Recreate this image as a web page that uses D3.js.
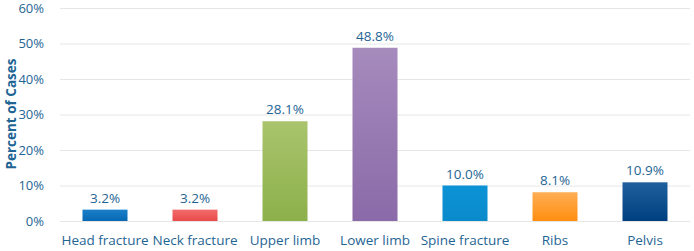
<!DOCTYPE html>
<html>
<head>
<meta charset="utf-8">
<script src="https://cdn.jsdelivr.net/npm/d3@7"></script>
<style>
  body { margin: 0; background: #fff; }
  text { font-family: "Open Sans", "Noto Sans", sans-serif; }
</style>
</head>
<body>
<div class="chart"></div>
<script>
let categories = ["Head fracture", "Neck fracture", "Upper limb", "Lower limb", "Spine fracture", "Ribs", "Pelvis"];
let values = [3.2, 3.2, 28.1, 48.8, 10.0, 8.1, 10.9];
let yTicks = [0, 10, 20, 30, 40, 50, 60];
let topColors = ["#1a7fc8", "#f26b6b", "#a9c46d", "#a68bbd", "#0b93d6", "#ffad55", "#21609e"];
let bottomColors = ["#0868b4", "#e94a4a", "#8cb04a", "#8a6aa8", "#0b8acb", "#ff8f10", "#003f7f"];

let margin = {top: 8, right: 4, bottom: 30, left: 60},
    width = 694 - margin.left - margin.right,
    height = 251 - margin.top - margin.bottom;

let labelColor = "#1f6594";

let svg = d3.select(".chart")
  .append("svg")
    .attr("width", 694)
    .attr("height", 251);

let defs = svg.append("defs");
categories.forEach(function(c, i){
  let g = defs.append("linearGradient")
    .attr("id", "grad" + i)
    .attr("x1", 0).attr("y1", 0).attr("x2", 0).attr("y2", 1);
  g.append("stop").attr("offset", "0%").attr("stop-color", topColors[i]);
  g.append("stop").attr("offset", "100%").attr("stop-color", bottomColors[i]);
});

let chart = svg.append("g")
  .attr("transform", "translate(" + margin.left + "," + margin.top + ")");

let xScale = d3.scaleBand()
  .domain(categories)
  .range([0, width])
  .paddingInner(0.5)
  .paddingOuter(0.25);

let yScale = d3.scaleLinear()
  .domain([0, 60])
  .range([height, 0]);

// grid lines
chart.selectAll(".grid").data(yTicks).enter()
  .append("line")
    .attr("class", "grid")
    .attr("x1", 0)
    .attr("x2", width)
    .attr("y1", function(d){ return yScale(d) + 0.5; })
    .attr("y2", function(d){ return yScale(d) + 0.5; })
    .attr("stroke", "#e6e6e6")
    .attr("stroke-width", 1);

// y axis
let yAxis = d3.axisLeft(yScale)
  .tickValues(yTicks)
  .tickSize(0)
  .tickPadding(16)
  .tickFormat(function(d){ return d + "%"; });
let yAxisGroup = chart.append("g").attr("class", "yaxis").call(yAxis);
yAxisGroup.select(".domain").remove();
yAxisGroup.selectAll("text")
  .attr("fill", labelColor)
  .style("font-size", "13px");

// x axis
let xAxis = d3.axisBottom(xScale).tickSize(0).tickPadding(14);
let xAxisGroup = chart.append("g")
  .attr("class", "xaxis")
  .attr("transform", "translate(0," + height + ")")
  .call(xAxis);
xAxisGroup.select(".domain").remove();
xAxisGroup.selectAll("text")
  .attr("fill", labelColor)
  .style("font-size", "13.5px");

// bars
chart.selectAll(".bar").data(values).enter()
  .append("rect")
    .attr("class", "bar")
    .attr("x", function(d, i){ return xScale(categories[i]); })
    .attr("width", xScale.bandwidth())
    .attr("y", function(d){ return yScale(d); })
    .attr("height", function(d){ return yScale(0) - yScale(d); })
    .attr("fill", function(d, i){ return "url(#grad" + i + ")"; });

// value labels
chart.selectAll(".vlabel").data(values).enter()
  .append("text")
    .attr("class", "vlabel")
    .attr("x", function(d, i){ return xScale(categories[i]) + xScale.bandwidth() / 2; })
    .attr("y", function(d){ return yScale(d) - 7; })
    .attr("text-anchor", "middle")
    .attr("fill", labelColor)
    .style("font-size", "13.5px")
    .text(function(d){ return d.toFixed(1) + "%"; });

// y title
svg.append("text")
  .attr("transform", "translate(16," + 114 + ") rotate(-90)")
  .attr("text-anchor", "middle")
  .attr("fill", "#1f6594")
  .style("font-size", "13.5px")
  .style("font-weight", "bold")
  .text("Percent of Cases");
</script>
</body>
</html>
